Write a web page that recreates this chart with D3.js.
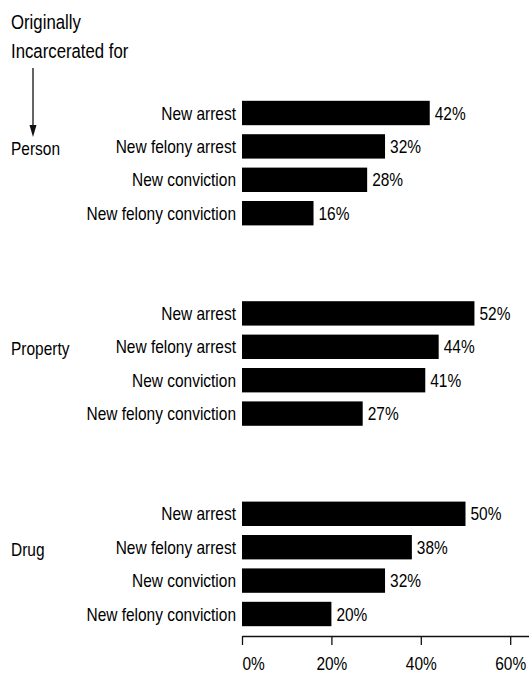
<!DOCTYPE html>
<html>
<head>
<meta charset="utf-8">
<script src="https://cdn.jsdelivr.net/npm/d3@7/dist/d3.min.js"></script>
<style>
  html, body { margin: 0; padding: 0; background: #fff; }
  svg text { font-family: "Liberation Sans", Arial, sans-serif; fill: #000; }
</style>
</head>
<body>
<script>
const groups = ["Person", "Property", "Drug"];
const measures = ["New arrest", "New felony arrest", "New conviction", "New felony conviction"];
const personValues = [42, 32, 28, 16];
const propertyValues = [52, 44, 41, 27];
const drugValues = [50, 38, 32, 20];
const tickValues = [0, 20, 40, 60];
const tickLabels = ["0%", "20%", "40%", "60%"];
const titleLines = ["Originally", "Incarcerated for"];

const W = 529, H = 673;
const svg = d3.select("body").append("svg").attr("width", W).attr("height", H);

const valuesByGroup = [personValues, propertyValues, drugValues];
const rows = [];
let slot = 0;
groups.forEach((g, gi) => {
  measures.forEach((m, mi) => {
    rows.push({ group: g, measure: m, value: valuesByGroup[gi][mi], slot: slot });
    slot++;
  });
  if (gi < groups.length - 1) slot += 2;
});

const y = d3.scaleBand()
  .domain(d3.range(slot))
  .range([96.3, 96.3 + slot * 33.4])
  .paddingInner(0.27)
  .paddingOuter(0.135);

const x = d3.scaleLinear().domain([0, 65]).range([242, 242 + 65 * 4.47]);

const fs = 18;
const sx = 0.86; // condensed look

function place(sel, fx, fy) {
  sel.attr("transform", (d, i) => `translate(${fx(d, i)},${fy(d, i)}) scale(${sx},1)`);
}

// bars
svg.append("g").selectAll("rect").data(rows).join("rect")
  .attr("x", x(0))
  .attr("y", d => y(d.slot))
  .attr("width", d => x(d.value) - x(0))
  .attr("height", y.bandwidth())
  .attr("fill", "#000");

// category labels
svg.append("g").selectAll("text").data(rows).join("text")
  .call(place, d => x(0) - 6, d => y(d.slot) + y.bandwidth() / 2 + 6.5)
  .attr("text-anchor", "end")
  .attr("font-size", fs)
  .text(d => d.measure);

// value labels
svg.append("g").selectAll("text").data(rows).join("text")
  .call(place, d => x(d.value) + 5, d => y(d.slot) + y.bandwidth() / 2 + 6.5)
  .attr("font-size", fs)
  .text(d => d.value + "%");

// group labels (aligned to second row of each group)
svg.append("g").selectAll("text").data(groups).join("text")
  .call(place, () => 11, g => {
    const r = rows.find(d => d.group === g && d.measure === measures[1]);
    return y(r.slot) + y.bandwidth() / 2 + 8.5;
  })
  .attr("font-size", fs)
  .text(d => d);

// title
svg.append("g").selectAll("text").data(titleLines).join("text")
  .call(place, () => 11, (d, i) => 28.5 + i * 29)
  .attr("font-size", 19.5)
  .text(d => d);

// arrow
svg.append("line")
  .attr("x1", 33).attr("x2", 33).attr("y1", 68).attr("y2", 128)
  .attr("stroke", "#111").attr("stroke-width", 1.3);
svg.append("path")
  .attr("d", "M29.5,125 L36.5,125 L33,137 Z")
  .attr("fill", "#111");

// axis
const axis = d3.axisBottom(x)
  .tickValues(tickValues)
  .tickFormat((d, i) => tickLabels[i])
  .tickSize(9)
  .tickSizeOuter(0)
  .tickPadding(12);
const ag = svg.append("g").attr("transform", "translate(0,636)").call(axis);
ag.select(".domain").attr("stroke", "#111").attr("stroke-width", 1.5);
ag.selectAll(".tick line").attr("stroke", "#111").attr("stroke-width", 1.3);
ag.selectAll(".tick text")
  .attr("font-size", fs)
  .attr("font-family", null)
  .attr("fill", "#000")
  .attr("transform", `scale(${sx},1)`)
  .attr("text-anchor", (d, i) => i === 0 ? "start" : "middle");
</script>
</body>
</html>
